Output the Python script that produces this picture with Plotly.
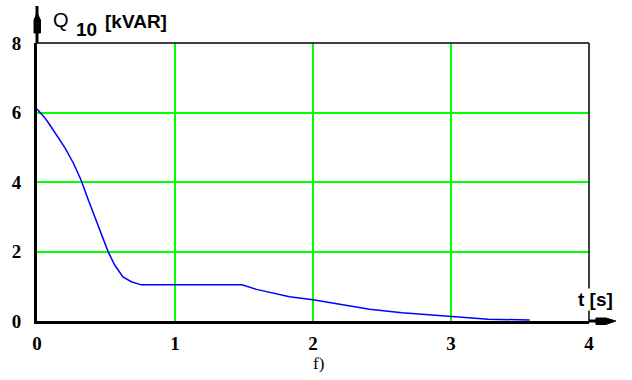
import plotly.graph_objects as go

# Reactive power Q10 versus time
t_s = [0, 0.05, 0.085, 0.133, 0.205, 0.264, 0.319, 0.372, 0.42, 0.468, 0.516,
       0.563, 0.623, 0.683, 0.755, 1.0, 1.25, 1.485, 1.59, 1.69, 1.83, 2.0,
       2.17, 2.41, 2.645, 3.0, 3.27, 3.57]
q_kvar = [6.1, 5.88, 5.69, 5.40, 4.97, 4.54, 4.06, 3.48, 3.0, 2.52, 1.99,
          1.61, 1.27, 1.13, 1.04, 1.04, 1.04, 1.04, 0.91, 0.82, 0.70, 0.61,
          0.49, 0.34, 0.24, 0.12, 0.05, 0.03]

x_ticks = [0, 1, 2, 3, 4]
y_ticks = [0, 2, 4, 6, 8]

W, H = 632, 380
L, R, T, B = 32, 43, 43, 59
PW, PH = W - L - R, H - T - B


def px(xp):
    return (xp - L) / PW


def py(yp):
    return (H - B - yp) / PH


fig = go.Figure()
fig.add_trace(go.Scatter(x=t_s, y=q_kvar, mode="lines",
                         line=dict(color="#0000ff", width=1.5),
                         hoverinfo="skip", showlegend=False))

tickfont = dict(family="Liberation Serif", size=19, color="black", weight="bold")

fig.update_xaxes(range=[0, 4], tickvals=x_ticks, ticktext=[str(v) for v in x_ticks],
                 showgrid=True, gridcolor="#00ff00", gridwidth=1.5,
                 zeroline=False, showline=True, linecolor="black", linewidth=3,
                 ticks="", ticklabelstandoff=3, tickfont=tickfont)
fig.update_yaxes(range=[0, 8], tickvals=y_ticks, ticktext=[str(v) for v in y_ticks],
                 showgrid=True, gridcolor="#00ff00", gridwidth=1.5,
                 zeroline=False, showline=True, linecolor="black", linewidth=3,
                 ticks="", ticklabelstandoff=9, tickfont=tickfont)

shapes = [
    # top and right borders
    dict(type="line", xref="paper", yref="paper", x0=0, x1=1, y0=1, y1=1,
         line=dict(color="black", width=1.5)),
    dict(type="line", xref="paper", yref="paper", x0=1, x1=1, y0=0, y1=1,
         line=dict(color="black", width=1.5)),
    # axis extensions with arrow heads
    dict(type="line", xref="paper", yref="paper", x0=1, x1=px(612), y0=0, y1=0,
         line=dict(color="black", width=3)),
    dict(type="path", xref="paper", yref="paper",
         path=f"M {px(596)},{py(318)} L {px(606)},{py(318)} L {px(616)},{py(321)} "
              f"L {px(606)},{py(324.5)} L {px(596)},{py(324.5)} Z",
         fillcolor="black", line=dict(color="black", width=1)),
    dict(type="line", xref="paper", yref="paper", x0=0, x1=0, y0=1, y1=py(6),
         line=dict(color="black", width=3)),
    dict(type="path", xref="paper", yref="paper",
         path=f"M {px(29)},{py(33)} L {px(29)},{py(20)} L {px(32)},{py(13)} "
              f"L {px(35.5)},{py(20)} L {px(35.5)},{py(33)} Z",
         fillcolor="black", line=dict(color="black", width=1)),
]
fig.update_layout(shapes=shapes)

annotations = [
    dict(text="Q", x=px(46), y=py(20), xanchor="left", yanchor="middle",
         font=dict(family="Liberation Sans", size=20, color="black")),
    dict(text="10", x=px(69), y=py(29), xanchor="left", yanchor="middle",
         font=dict(family="Liberation Sans", size=19, color="black", weight="bold")),
    dict(text="[kVAR]", x=px(99), y=py(21), xanchor="left", yanchor="middle",
         font=dict(family="Liberation Sans", size=19, color="black", weight="bold")),
    dict(text="t [s]", x=px(596), y=py(299), xanchor="center", yanchor="middle",
         bgcolor="white", borderpad=0,
         font=dict(family="Liberation Sans", size=19, color="black", weight="bold")),
    dict(text="f)", x=px(316), y=py(363), xanchor="center", yanchor="middle",
         font=dict(family="Liberation Serif", size=17, color="black")),
]
for a in annotations:
    a.update(xref="paper", yref="paper", showarrow=False)
fig.update_layout(annotations=annotations)

fig.update_layout(width=W, height=H, margin=dict(l=L, r=R, t=T, b=B),
                  paper_bgcolor="white", plot_bgcolor="white")

fig.write_html("out.html")
